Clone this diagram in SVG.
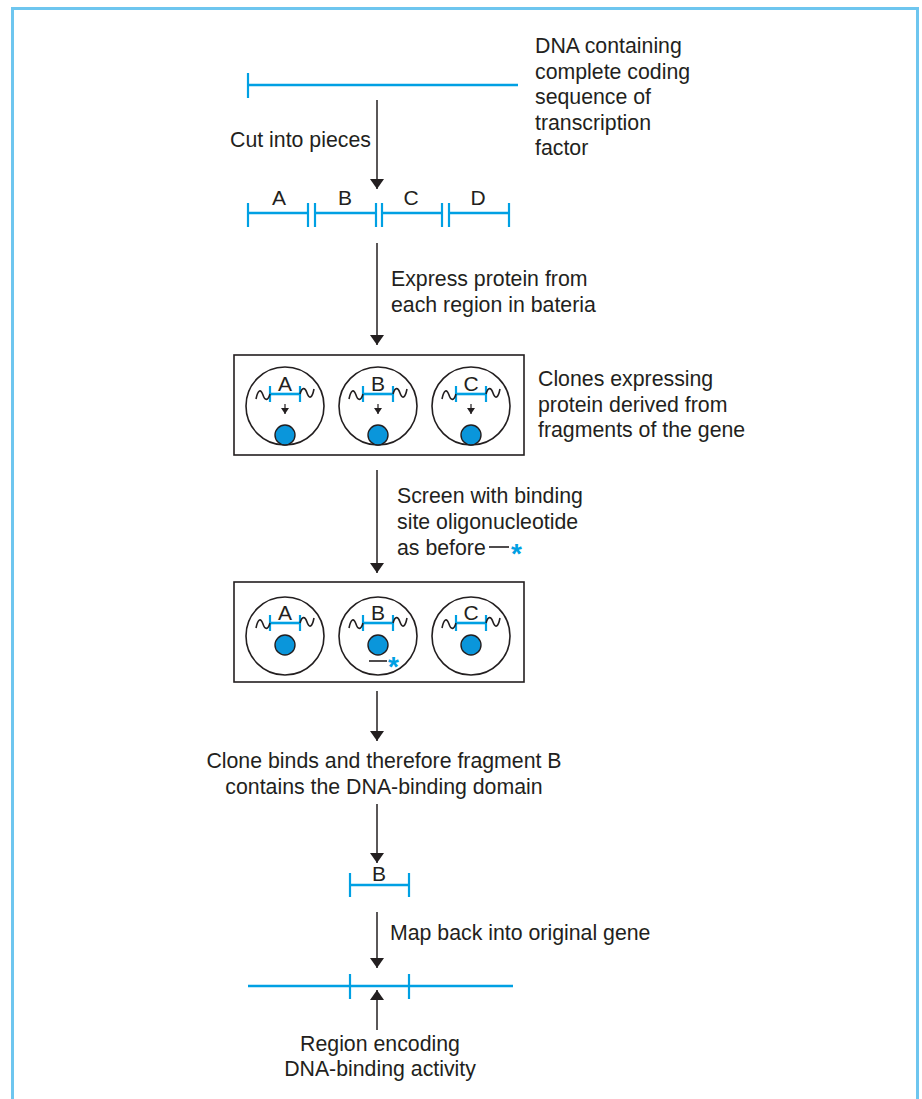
<svg xmlns="http://www.w3.org/2000/svg" width="922" height="1099" viewBox="0 0 922 1099">
<defs>
<style>
.t{font-family:"Liberation Sans",Arial,sans-serif;font-size:21.3px;fill:#231f20}
.lab{font-family:"Liberation Sans",Arial,sans-serif;font-size:21px;fill:#231f20;text-anchor:middle}
.b{stroke:#00a0e3;stroke-width:2.6;fill:none}
.bt{stroke:#00a0e3;stroke-width:2.2;fill:none}
.k{stroke:#231f20;stroke-width:1.6;fill:none}
.cell{stroke:#231f20;stroke-width:1.6;fill:#fff}
.dot{stroke:#231f20;stroke-width:1.4;fill:#0a96db}
.ar{stroke:#231f20;stroke-width:1.5;fill:none;marker-end:url(#ah)}
.sa{stroke:#231f20;stroke-width:1.2;fill:none;marker-end:url(#sh)}
.ast{font-family:"Liberation Sans",Arial,sans-serif;font-size:28px;font-weight:bold;fill:#00a0e3}
</style>
<marker id="ah" markerWidth="10" markerHeight="14" refX="10" refY="7" orient="auto" markerUnits="userSpaceOnUse" viewBox="0 0 10 14">
<path d="M0,0 L10,7 L0,14 z" fill="#231f20"/>
</marker>
<marker id="sh" markerWidth="6" markerHeight="8" refX="6" refY="4" orient="auto" markerUnits="userSpaceOnUse" viewBox="0 0 6 8">
<path d="M0,0 L6,4 L0,8 z" fill="#231f20"/>
</marker>
</defs>
<rect x="0" y="0" width="922" height="1099" fill="#fff"/>
<path d="M12.5,1099 V8.5 H917.5 V1099" stroke="#6ec6ef" stroke-width="3" fill="none"/>

<g id="dna-full">
<line class="b" x1="248" y1="85" x2="518" y2="85"/>
<line class="bt" x1="248" y1="73" x2="248" y2="98"/>
<text class="t" x="535" y="53">DNA containing</text>
<text class="t" x="535" y="78.5">complete coding</text>
<text class="t" x="535" y="104">sequence of</text>
<text class="t" x="535" y="129.5">transcription</text>
<text class="t" x="535" y="155">factor</text>
</g>

<g id="fragments">
<line class="b" x1="248" y1="213" x2="308" y2="213"/>
<line class="b" x1="315" y1="213" x2="376" y2="213"/>
<line class="b" x1="382" y1="213" x2="442" y2="213"/>
<line class="b" x1="449" y1="213" x2="509" y2="213"/>
<g class="bt">
<line x1="248" y1="203" x2="248" y2="227"/><line x1="308" y1="203" x2="308" y2="227"/>
<line x1="315" y1="203" x2="315" y2="227"/><line x1="376" y1="203" x2="376" y2="227"/>
<line x1="382" y1="203" x2="382" y2="227"/><line x1="442" y1="203" x2="442" y2="227"/>
<line x1="449" y1="203" x2="449" y2="227"/><line x1="509" y1="203" x2="509" y2="227"/>
</g>
<text class="lab" x="279" y="205">A</text>
<text class="lab" x="345" y="205">B</text>
<text class="lab" x="411" y="205">C</text>
<text class="lab" x="478" y="205">D</text>
</g>

<g id="clones1">
<rect class="k" x="234" y="355" width="290" height="100"/>
<g id="clone1-a">
<circle class="cell" cx="285" cy="406" r="39"/>
<line class="b" x1="270" y1="394" x2="300" y2="394"/>
<line class="bt" x1="270" y1="386" x2="270" y2="402"/><line class="bt" x1="300" y1="386" x2="300" y2="402"/>
<path class="k" d="M256,399 C258,389 261,389 263,395 C265,401 268,401 270,394"/>
<path class="k" d="M300,394 C302,387 305,387 307,393 C309,399 312,399 314,389"/>
<text class="lab" x="285" y="391">A</text>
<line class="sa" x1="285" y1="404" x2="285" y2="414"/>
<circle class="dot" cx="285" cy="435" r="10"/>
</g>
<g id="clone1-b">
<circle class="cell" cx="378" cy="406" r="39"/>
<line class="b" x1="363" y1="394" x2="393" y2="394"/>
<line class="bt" x1="363" y1="386" x2="363" y2="402"/><line class="bt" x1="393" y1="386" x2="393" y2="402"/>
<path class="k" d="M349,399 C351,389 354,389 356,395 C358,401 361,401 363,394"/>
<path class="k" d="M393,394 C395,387 398,387 400,393 C402,399 405,399 407,389"/>
<text class="lab" x="378" y="391">B</text>
<line class="sa" x1="378" y1="404" x2="378" y2="414"/>
<circle class="dot" cx="378" cy="435" r="10"/>
</g>
<g id="clone1-c">
<circle class="cell" cx="471" cy="406" r="39"/>
<line class="b" x1="456" y1="394" x2="486" y2="394"/>
<line class="bt" x1="456" y1="386" x2="456" y2="402"/><line class="bt" x1="486" y1="386" x2="486" y2="402"/>
<path class="k" d="M442,399 C444,389 447,389 449,395 C451,401 454,401 456,394"/>
<path class="k" d="M486,394 C488,387 491,387 493,393 C495,399 498,399 500,389"/>
<text class="lab" x="471" y="391">C</text>
<line class="sa" x1="471" y1="404" x2="471" y2="414"/>
<circle class="dot" cx="471" cy="435" r="10"/>
</g>
<text class="t" x="538" y="386">Clones expressing</text>
<text class="t" x="538" y="411.5">protein derived from</text>
<text class="t" x="538" y="437">fragments of the gene</text>
</g>

<g id="clones2">
<rect class="k" x="234" y="582" width="290" height="100"/>
<g id="clone2-a">
<circle class="cell" cx="285" cy="636" r="39"/>
<line class="b" x1="270" y1="623" x2="300" y2="623"/>
<line class="bt" x1="270" y1="615" x2="270" y2="631"/><line class="bt" x1="300" y1="615" x2="300" y2="631"/>
<path class="k" d="M256,628 C258,618 261,618 263,624 C265,630 268,630 270,623"/>
<path class="k" d="M300,623 C302,616 305,616 307,622 C309,628 312,628 314,618"/>
<text class="lab" x="285" y="620">A</text>
<circle class="dot" cx="285" cy="645" r="10"/>
</g>
<g id="clone2-b">
<circle class="cell" cx="378" cy="636" r="39"/>
<line class="b" x1="363" y1="623" x2="393" y2="623"/>
<line class="bt" x1="363" y1="615" x2="363" y2="631"/><line class="bt" x1="393" y1="615" x2="393" y2="631"/>
<path class="k" d="M349,628 C351,618 354,618 356,624 C358,630 361,630 363,623"/>
<path class="k" d="M393,623 C395,616 398,616 400,622 C402,628 405,628 407,618"/>
<text class="lab" x="378" y="620">B</text>
<circle class="dot" cx="378" cy="645" r="10"/>
<line class="k" x1="369" y1="661" x2="387" y2="661"/>
<text class="ast" x="388" y="676">*</text>
</g>
<g id="clone2-c">
<circle class="cell" cx="471" cy="636" r="39"/>
<line class="b" x1="456" y1="623" x2="486" y2="623"/>
<line class="bt" x1="456" y1="615" x2="456" y2="631"/><line class="bt" x1="486" y1="615" x2="486" y2="631"/>
<path class="k" d="M442,628 C444,618 447,618 449,624 C451,630 454,630 456,623"/>
<path class="k" d="M486,623 C488,616 491,616 493,622 C495,628 498,628 500,618"/>
<text class="lab" x="471" y="620">C</text>
<circle class="dot" cx="471" cy="645" r="10"/>
</g>
</g>

<g id="result-text">
<text class="t" x="384" y="768" text-anchor="middle">Clone binds and therefore fragment B</text>
<text class="t" x="384" y="794" text-anchor="middle">contains the DNA-binding domain</text>
</g>

<g id="fragment-b">
<line class="b" x1="350" y1="885" x2="409" y2="885"/>
<line class="bt" x1="350" y1="873" x2="350" y2="897"/><line class="bt" x1="409" y1="873" x2="409" y2="897"/>
<text class="lab" x="379" y="881">B</text>
</g>

<g id="gene-map">
<line class="b" x1="248" y1="986" x2="513" y2="986"/>
<line class="bt" x1="350" y1="974" x2="350" y2="999"/><line class="bt" x1="409" y1="974" x2="409" y2="999"/>
<text class="t" x="380" y="1051" text-anchor="middle">Region encoding</text>
<text class="t" x="380" y="1076" text-anchor="middle">DNA-binding activity</text>
</g>

<g id="connectors">
<line class="ar" x1="377" y1="100" x2="377" y2="189"/>
<text class="t" x="230" y="147">Cut into pieces</text>
<line class="ar" x1="377" y1="243" x2="377" y2="345"/>
<text class="t" x="391" y="286">Express protein from</text>
<text class="t" x="391" y="311.5">each region in bateria</text>
<line class="ar" x1="377" y1="470" x2="377" y2="573"/>
<text class="t" x="397" y="503">Screen with binding</text>
<text class="t" x="397" y="529">site oligonucleotide</text>
<text class="t" x="397" y="555">as before</text>
<line class="k" x1="489" y1="547" x2="509" y2="547"/>
<text class="ast" x="511" y="563">*</text>
<line class="ar" x1="377" y1="691" x2="377" y2="741"/>
<line class="ar" x1="377" y1="804" x2="377" y2="863"/>
<line class="ar" x1="377" y1="912" x2="377" y2="968"/>
<text class="t" x="390" y="940">Map back into original gene</text>
<line class="ar" x1="377" y1="1030" x2="377" y2="990"/>
</g>
</svg>
